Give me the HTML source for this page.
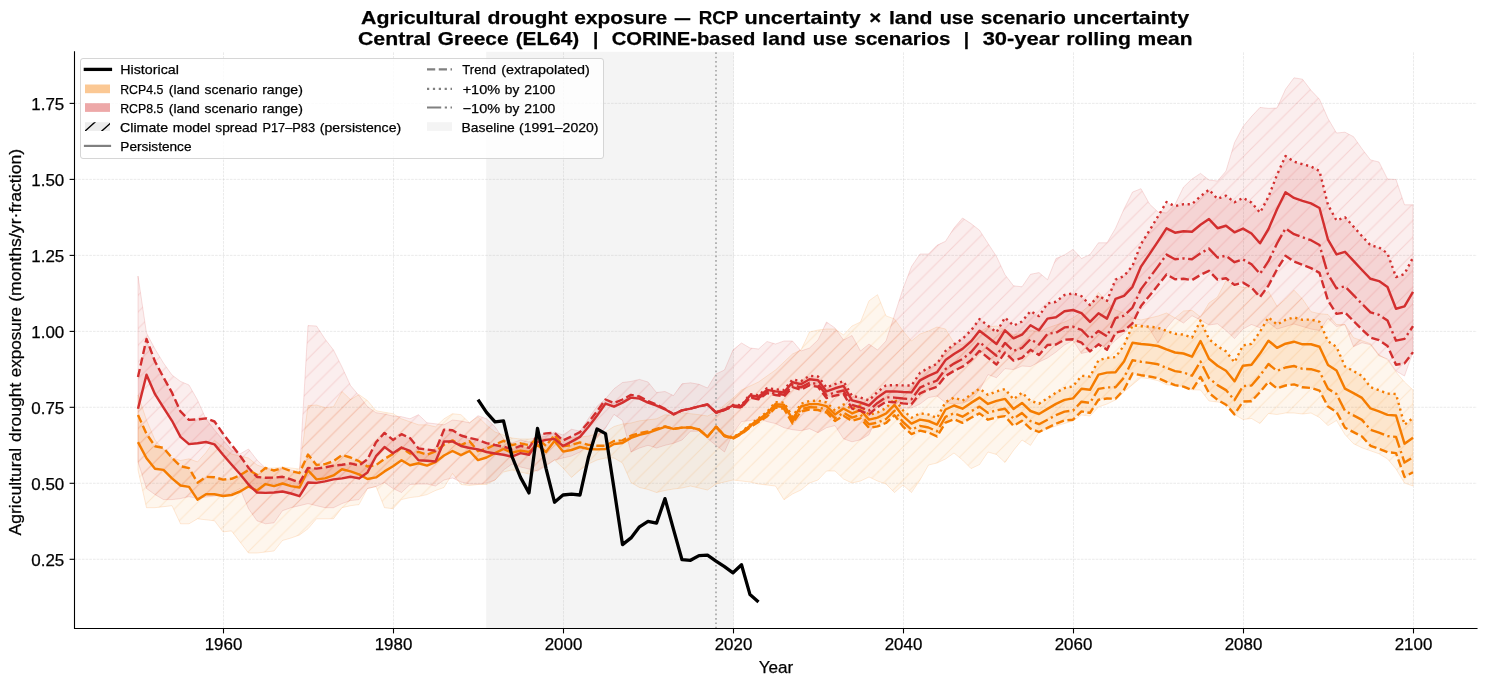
<!DOCTYPE html><html><head><meta charset="utf-8"><title>chart</title><style>html,body{margin:0;padding:0;background:#fff}svg{display:block}text{font-family:"Liberation Sans",sans-serif;fill:#000;stroke:#000;stroke-width:0.25px;stroke-linejoin:round}</style></head><body>
<svg width="1487" height="686" viewBox="0 0 1487 686">
<rect width="1487" height="686" fill="#fff"/>
<defs>
<pattern id="hr" patternUnits="userSpaceOnUse" width="16.6667" height="16.6667" patternTransform="translate(0.00 0)"><path d="M-1.000 17.667 L17.667 -1.000 M-17.667 17.667 L1.000 -1.000 M-1.000 34.333 L34.333 -1.000" stroke="#D32F2F" stroke-opacity="0.15" stroke-width="1" fill="none"/></pattern>
<pattern id="ho" patternUnits="userSpaceOnUse" width="16.6667" height="16.6667" patternTransform="translate(0.00 0)"><path d="M-1.000 17.667 L17.667 -1.000 M-17.667 17.667 L1.000 -1.000 M-1.000 34.333 L34.333 -1.000" stroke="#F57C00" stroke-opacity="0.13" stroke-width="1" fill="none"/></pattern>
<clipPath id="ax"><rect x="74.5" y="51.8" width="1402.5" height="576.7"/></clipPath>
</defs>
<rect x="486.2" y="51.8" width="247.4" height="576.7" fill="#808080" fill-opacity="0.085"/>
<g stroke="#b0b0b0" stroke-opacity="0.36" stroke-width="0.7" stroke-dasharray="2.6 1.1" fill="none">
<path d="M223.5 628.5 V51.8"/>
<path d="M393.5 628.5 V51.8"/>
<path d="M563.5 628.5 V51.8"/>
<path d="M733.5 628.5 V51.8"/>
<path d="M903.5 628.5 V51.8"/>
<path d="M1073.5 628.5 V51.8"/>
<path d="M1243.5 628.5 V51.8"/>
<path d="M1413.5 628.5 V51.8"/>
<path d="M74.5 559.3 H1477.0"/>
<path d="M74.5 483.3 H1477.0"/>
<path d="M74.5 407.3 H1477.0"/>
<path d="M74.5 331.4 H1477.0"/>
<path d="M74.5 255.4 H1477.0"/>
<path d="M74.5 179.4 H1477.0"/>
<path d="M74.5 103.4 H1477.0"/>
</g>
<g clip-path="url(#ax)">
<path d="M138.0 395.0 L146.5 420.0 L155.0 440.0 L163.5 450.0 L172.0 458.0 L180.5 460.5 L189.0 458.8 L197.5 461.9 L206.0 452.5 L214.5 440.3 L223.0 447.0 L231.5 454.0 L240.0 456.0 L248.5 458.0 L257.0 465.0 L265.5 468.0 L274.0 468.0 L282.5 467.0 L291.0 468.0 L299.5 469.0 L308.0 405.6 L316.5 405.0 L325.0 407.7 L333.5 406.7 L342.0 391.5 L350.5 399.6 L359.0 394.6 L367.5 400.6 L376.0 410.7 L384.5 412.3 L393.0 413.7 L401.5 418.8 L410.0 421.8 L418.5 424.8 L427.0 424.8 L435.5 426.8 L444.0 418.8 L452.5 413.7 L461.0 414.7 L469.5 422.8 L478.0 416.7 L486.5 425.0 L495.0 432.0 L503.5 435.0 L512.0 438.0 L520.5 439.0 L529.0 439.0 L537.5 438.0 L546.0 439.0 L554.5 438.0 L563.0 439.0 L571.5 438.0 L580.0 437.0 L588.5 436.0 L597.0 434.0 L605.5 432.0 L614.0 426.5 L622.5 424.0 L631.0 423.0 L639.5 420.8 L648.0 419.8 L656.5 418.8 L665.0 414.7 L673.5 415.7 L682.0 412.7 L690.5 413.7 L699.0 414.7 L707.5 416.0 L716.0 412.0 L724.5 405.0 L733.0 398.0 L741.5 390.0 L750.0 386.0 L758.5 382.0 L767.0 376.0 L775.5 370.0 L784.0 362.0 L792.5 354.0 L801.0 350.0 L809.5 332.0 L818.0 330.0 L826.5 329.0 L835.0 329.0 L843.5 335.0 L852.0 326.0 L860.5 322.0 L869.0 300.8 L877.5 294.7 L886.0 315.9 L894.5 318.9 L903.0 331.0 L911.5 341.0 L920.0 334.0 L928.5 331.0 L937.0 327.0 L945.5 329.0 L954.0 343.0 L962.5 345.0 L971.0 340.0 L979.5 332.0 L988.0 327.0 L996.5 326.0 L1005.0 330.0 L1013.5 335.0 L1022.0 333.0 L1030.5 330.0 L1039.0 332.0 L1047.5 328.0 L1056.0 325.0 L1064.5 322.0 L1073.0 318.0 L1081.5 312.0 L1090.0 305.0 L1098.5 292.4 L1107.0 302.0 L1115.5 310.0 L1124.0 313.0 L1132.5 318.0 L1141.0 320.0 L1149.5 318.0 L1158.0 316.0 L1166.5 313.0 L1175.0 318.0 L1183.5 311.0 L1192.0 310.3 L1200.5 317.0 L1209.0 303.0 L1217.5 297.0 L1226.0 280.8 L1234.5 284.8 L1243.0 287.5 L1251.5 287.5 L1260.0 295.6 L1268.5 291.5 L1277.0 306.3 L1285.5 299.0 L1294.0 290.2 L1302.5 299.0 L1311.0 311.7 L1319.5 313.7 L1328.0 314.5 L1336.5 324.6 L1345.0 324.6 L1353.5 337.7 L1362.0 340.7 L1370.5 343.7 L1379.0 354.8 L1387.5 359.9 L1396.0 372.0 L1404.5 382.0 L1413.0 390.0 L1413.0 486.0 L1404.5 483.0 L1396.0 469.0 L1387.5 458.9 L1379.0 453.8 L1370.5 450.8 L1362.0 447.8 L1353.5 443.7 L1345.0 434.6 L1336.5 420.5 L1328.0 425.6 L1319.5 417.5 L1311.0 413.0 L1302.5 414.0 L1294.0 413.0 L1285.5 413.0 L1277.0 414.5 L1268.5 413.5 L1260.0 423.5 L1251.5 418.5 L1243.0 419.5 L1234.5 414.5 L1226.0 403.0 L1217.5 402.0 L1209.0 401.0 L1200.5 390.0 L1192.0 389.8 L1183.5 386.7 L1175.0 385.7 L1166.5 384.7 L1158.0 380.7 L1149.5 378.7 L1141.0 377.7 L1132.5 384.7 L1124.0 391.8 L1115.5 400.0 L1107.0 404.0 L1098.5 407.0 L1090.0 416.0 L1081.5 415.0 L1073.0 421.0 L1064.5 423.5 L1056.0 426.0 L1047.5 429.0 L1039.0 432.3 L1030.5 445.4 L1022.0 440.0 L1013.5 450.4 L1005.0 462.5 L996.5 454.5 L988.0 452.0 L979.5 464.6 L971.0 468.6 L962.5 460.0 L954.0 453.0 L945.5 459.0 L937.0 463.0 L928.5 465.0 L920.0 480.0 L911.5 492.5 L903.0 485.0 L894.5 492.5 L886.0 484.0 L877.5 481.0 L869.0 477.0 L860.5 481.0 L852.0 483.0 L843.5 479.0 L835.0 471.0 L826.5 471.0 L818.0 480.0 L809.5 483.0 L801.0 490.0 L792.5 494.0 L784.0 499.8 L775.5 486.0 L767.0 485.0 L758.5 484.0 L750.0 482.0 L741.5 481.0 L733.0 480.0 L724.5 482.0 L716.0 484.0 L707.5 490.0 L699.0 488.0 L690.5 486.0 L682.0 488.0 L673.5 489.0 L665.0 490.5 L656.5 492.5 L648.0 489.5 L639.5 487.5 L631.0 482.5 L622.5 463.0 L614.0 458.0 L605.5 458.0 L597.0 460.0 L588.5 464.0 L580.0 470.0 L571.5 477.4 L563.0 468.0 L554.5 460.0 L546.0 465.0 L537.5 470.0 L529.0 474.0 L520.5 472.0 L512.0 470.0 L503.5 472.0 L495.0 480.0 L486.5 484.5 L478.0 484.5 L469.5 485.5 L461.0 484.5 L452.5 473.4 L444.0 487.5 L435.5 490.5 L427.0 494.6 L418.5 496.6 L410.0 497.6 L401.5 499.6 L393.0 508.7 L384.5 507.7 L376.0 486.5 L367.5 488.5 L359.0 504.6 L350.5 505.7 L342.0 507.7 L333.5 518.8 L325.0 518.8 L316.5 518.8 L308.0 528.8 L299.5 535.0 L291.0 538.0 L282.5 540.5 L274.0 551.0 L265.5 552.0 L257.0 553.0 L248.5 553.0 L240.0 542.0 L231.5 530.9 L223.0 531.9 L214.5 520.8 L206.0 519.8 L197.5 518.8 L189.0 523.8 L180.5 523.8 L172.0 505.7 L163.5 506.7 L155.0 507.7 L146.5 507.7 L138.0 470.0Z" fill="#F57C00" fill-opacity="0.07" stroke="#F57C00" stroke-opacity="0.15" stroke-width="1"/>
<path d="M138.0 395.0 L146.5 420.0 L155.0 440.0 L163.5 450.0 L172.0 458.0 L180.5 460.5 L189.0 458.8 L197.5 461.9 L206.0 452.5 L214.5 440.3 L223.0 447.0 L231.5 454.0 L240.0 456.0 L248.5 458.0 L257.0 465.0 L265.5 468.0 L274.0 468.0 L282.5 467.0 L291.0 468.0 L299.5 469.0 L308.0 405.6 L316.5 405.0 L325.0 407.7 L333.5 406.7 L342.0 391.5 L350.5 399.6 L359.0 394.6 L367.5 400.6 L376.0 410.7 L384.5 412.3 L393.0 413.7 L401.5 418.8 L410.0 421.8 L418.5 424.8 L427.0 424.8 L435.5 426.8 L444.0 418.8 L452.5 413.7 L461.0 414.7 L469.5 422.8 L478.0 416.7 L486.5 425.0 L495.0 432.0 L503.5 435.0 L512.0 438.0 L520.5 439.0 L529.0 439.0 L537.5 438.0 L546.0 439.0 L554.5 438.0 L563.0 439.0 L571.5 438.0 L580.0 437.0 L588.5 436.0 L597.0 434.0 L605.5 432.0 L614.0 426.5 L622.5 424.0 L631.0 423.0 L639.5 420.8 L648.0 419.8 L656.5 418.8 L665.0 414.7 L673.5 415.7 L682.0 412.7 L690.5 413.7 L699.0 414.7 L707.5 416.0 L716.0 412.0 L724.5 405.0 L733.0 398.0 L741.5 390.0 L750.0 386.0 L758.5 382.0 L767.0 376.0 L775.5 370.0 L784.0 362.0 L792.5 354.0 L801.0 350.0 L809.5 332.0 L818.0 330.0 L826.5 329.0 L835.0 329.0 L843.5 335.0 L852.0 326.0 L860.5 322.0 L869.0 300.8 L877.5 294.7 L886.0 315.9 L894.5 318.9 L903.0 331.0 L911.5 341.0 L920.0 334.0 L928.5 331.0 L937.0 327.0 L945.5 329.0 L954.0 343.0 L962.5 345.0 L971.0 340.0 L979.5 332.0 L988.0 327.0 L996.5 326.0 L1005.0 330.0 L1013.5 335.0 L1022.0 333.0 L1030.5 330.0 L1039.0 332.0 L1047.5 328.0 L1056.0 325.0 L1064.5 322.0 L1073.0 318.0 L1081.5 312.0 L1090.0 305.0 L1098.5 292.4 L1107.0 302.0 L1115.5 310.0 L1124.0 313.0 L1132.5 318.0 L1141.0 320.0 L1149.5 318.0 L1158.0 316.0 L1166.5 313.0 L1175.0 318.0 L1183.5 311.0 L1192.0 310.3 L1200.5 317.0 L1209.0 303.0 L1217.5 297.0 L1226.0 280.8 L1234.5 284.8 L1243.0 287.5 L1251.5 287.5 L1260.0 295.6 L1268.5 291.5 L1277.0 306.3 L1285.5 299.0 L1294.0 290.2 L1302.5 299.0 L1311.0 311.7 L1319.5 313.7 L1328.0 314.5 L1336.5 324.6 L1345.0 324.6 L1353.5 337.7 L1362.0 340.7 L1370.5 343.7 L1379.0 354.8 L1387.5 359.9 L1396.0 372.0 L1404.5 382.0 L1413.0 390.0 L1413.0 486.0 L1404.5 483.0 L1396.0 469.0 L1387.5 458.9 L1379.0 453.8 L1370.5 450.8 L1362.0 447.8 L1353.5 443.7 L1345.0 434.6 L1336.5 420.5 L1328.0 425.6 L1319.5 417.5 L1311.0 413.0 L1302.5 414.0 L1294.0 413.0 L1285.5 413.0 L1277.0 414.5 L1268.5 413.5 L1260.0 423.5 L1251.5 418.5 L1243.0 419.5 L1234.5 414.5 L1226.0 403.0 L1217.5 402.0 L1209.0 401.0 L1200.5 390.0 L1192.0 389.8 L1183.5 386.7 L1175.0 385.7 L1166.5 384.7 L1158.0 380.7 L1149.5 378.7 L1141.0 377.7 L1132.5 384.7 L1124.0 391.8 L1115.5 400.0 L1107.0 404.0 L1098.5 407.0 L1090.0 416.0 L1081.5 415.0 L1073.0 421.0 L1064.5 423.5 L1056.0 426.0 L1047.5 429.0 L1039.0 432.3 L1030.5 445.4 L1022.0 440.0 L1013.5 450.4 L1005.0 462.5 L996.5 454.5 L988.0 452.0 L979.5 464.6 L971.0 468.6 L962.5 460.0 L954.0 453.0 L945.5 459.0 L937.0 463.0 L928.5 465.0 L920.0 480.0 L911.5 492.5 L903.0 485.0 L894.5 492.5 L886.0 484.0 L877.5 481.0 L869.0 477.0 L860.5 481.0 L852.0 483.0 L843.5 479.0 L835.0 471.0 L826.5 471.0 L818.0 480.0 L809.5 483.0 L801.0 490.0 L792.5 494.0 L784.0 499.8 L775.5 486.0 L767.0 485.0 L758.5 484.0 L750.0 482.0 L741.5 481.0 L733.0 480.0 L724.5 482.0 L716.0 484.0 L707.5 490.0 L699.0 488.0 L690.5 486.0 L682.0 488.0 L673.5 489.0 L665.0 490.5 L656.5 492.5 L648.0 489.5 L639.5 487.5 L631.0 482.5 L622.5 463.0 L614.0 458.0 L605.5 458.0 L597.0 460.0 L588.5 464.0 L580.0 470.0 L571.5 477.4 L563.0 468.0 L554.5 460.0 L546.0 465.0 L537.5 470.0 L529.0 474.0 L520.5 472.0 L512.0 470.0 L503.5 472.0 L495.0 480.0 L486.5 484.5 L478.0 484.5 L469.5 485.5 L461.0 484.5 L452.5 473.4 L444.0 487.5 L435.5 490.5 L427.0 494.6 L418.5 496.6 L410.0 497.6 L401.5 499.6 L393.0 508.7 L384.5 507.7 L376.0 486.5 L367.5 488.5 L359.0 504.6 L350.5 505.7 L342.0 507.7 L333.5 518.8 L325.0 518.8 L316.5 518.8 L308.0 528.8 L299.5 535.0 L291.0 538.0 L282.5 540.5 L274.0 551.0 L265.5 552.0 L257.0 553.0 L248.5 553.0 L240.0 542.0 L231.5 530.9 L223.0 531.9 L214.5 520.8 L206.0 519.8 L197.5 518.8 L189.0 523.8 L180.5 523.8 L172.0 505.7 L163.5 506.7 L155.0 507.7 L146.5 507.7 L138.0 470.0Z" fill="url(#ho)"/>
<path d="M138.0 276.0 L146.5 333.0 L155.0 349.0 L163.5 363.0 L172.0 375.0 L180.5 381.4 L189.0 385.0 L197.5 400.0 L206.0 419.0 L214.5 430.0 L223.0 440.0 L231.5 450.0 L240.0 454.0 L248.5 449.0 L257.0 460.0 L265.5 468.0 L274.0 470.0 L282.5 468.0 L291.0 470.0 L299.5 472.0 L308.0 325.6 L316.5 326.0 L325.0 339.0 L333.5 350.0 L342.0 367.0 L350.5 385.5 L359.0 395.6 L367.5 406.7 L376.0 412.7 L384.5 414.0 L393.0 416.0 L401.5 416.7 L410.0 418.8 L418.5 414.7 L427.0 422.8 L435.5 423.8 L444.0 424.8 L452.5 420.0 L461.0 421.0 L469.5 422.8 L478.0 415.7 L486.5 418.8 L495.0 426.8 L503.5 439.0 L512.0 443.0 L520.5 440.0 L529.0 442.0 L537.5 438.0 L546.0 436.0 L554.5 432.0 L563.0 435.0 L571.5 429.2 L580.0 431.2 L588.5 418.4 L597.0 406.3 L605.5 398.9 L614.0 388.8 L622.5 382.5 L631.0 381.4 L639.5 379.4 L648.0 382.0 L656.5 392.5 L665.0 391.5 L673.5 395.6 L682.0 383.8 L690.5 382.8 L699.0 384.3 L707.5 388.0 L716.0 374.0 L724.5 370.0 L733.0 350.0 L741.5 343.0 L750.0 348.0 L758.5 349.0 L767.0 341.5 L775.5 344.0 L784.0 341.0 L792.5 341.0 L801.0 351.0 L809.5 348.0 L818.0 340.0 L826.5 322.0 L835.0 328.0 L843.5 340.0 L852.0 335.5 L860.5 351.0 L869.0 344.0 L877.5 350.0 L886.0 341.0 L894.5 315.0 L903.0 288.7 L911.5 266.5 L920.0 254.0 L928.5 254.0 L937.0 245.3 L945.5 241.3 L954.0 228.0 L962.5 218.0 L971.0 223.6 L979.5 230.2 L988.0 243.4 L996.5 256.5 L1005.0 274.7 L1013.5 285.8 L1022.0 286.8 L1030.5 274.3 L1039.0 272.6 L1047.5 279.7 L1056.0 258.5 L1064.5 254.9 L1073.0 249.4 L1081.5 258.5 L1090.0 254.5 L1098.5 242.8 L1107.0 242.8 L1115.5 228.3 L1124.0 209.0 L1132.5 192.1 L1141.0 188.7 L1149.5 204.0 L1158.0 212.0 L1166.5 213.0 L1175.0 204.5 L1183.5 187.1 L1192.0 179.0 L1200.5 173.4 L1209.0 180.0 L1217.5 181.0 L1226.0 171.0 L1234.5 142.7 L1243.0 126.6 L1251.5 116.5 L1260.0 107.4 L1268.5 108.4 L1277.0 108.0 L1285.5 89.3 L1294.0 77.8 L1302.5 79.2 L1311.0 90.3 L1319.5 99.3 L1328.0 118.5 L1336.5 133.0 L1345.0 132.2 L1353.5 136.7 L1362.0 148.8 L1370.5 159.9 L1379.0 162.0 L1387.5 179.0 L1396.0 179.5 L1404.5 204.8 L1413.0 204.8 L1413.0 351.8 L1404.5 376.0 L1396.0 371.0 L1387.5 358.9 L1379.0 355.8 L1370.5 344.7 L1362.0 342.7 L1353.5 346.7 L1345.0 324.6 L1336.5 326.6 L1328.0 318.5 L1319.5 330.5 L1311.0 329.0 L1302.5 326.5 L1294.0 324.0 L1285.5 326.5 L1277.0 329.0 L1268.5 322.5 L1260.0 327.8 L1251.5 324.5 L1243.0 329.0 L1234.5 338.6 L1226.0 330.5 L1217.5 323.8 L1209.0 325.0 L1200.5 320.0 L1192.0 315.7 L1183.5 323.0 L1175.0 318.0 L1166.5 328.0 L1158.0 343.0 L1149.5 329.0 L1141.0 324.2 L1132.5 325.2 L1124.0 333.3 L1115.5 340.3 L1107.0 348.4 L1098.5 343.4 L1090.0 351.4 L1081.5 353.5 L1073.0 340.3 L1064.5 345.0 L1056.0 352.0 L1047.5 358.0 L1039.0 362.0 L1030.5 366.6 L1022.0 366.0 L1013.5 369.6 L1005.0 368.6 L996.5 377.7 L988.0 374.6 L979.5 390.0 L971.0 400.0 L962.5 403.0 L954.0 404.0 L945.5 402.7 L937.0 396.0 L928.5 397.6 L920.0 404.0 L911.5 408.0 L903.0 408.0 L894.5 410.0 L886.0 414.6 L877.5 416.6 L869.0 434.7 L860.5 439.8 L852.0 441.8 L843.5 438.8 L835.0 425.6 L826.5 427.7 L818.0 432.7 L809.5 428.7 L801.0 430.7 L792.5 429.7 L784.0 427.7 L775.5 423.6 L767.0 421.6 L758.5 418.6 L750.0 420.6 L741.5 421.6 L733.0 433.0 L724.5 452.0 L716.0 445.3 L707.5 438.6 L699.0 431.2 L690.5 431.2 L682.0 440.0 L673.5 443.3 L665.0 445.3 L656.5 448.0 L648.0 445.3 L639.5 448.0 L631.0 452.0 L622.5 420.4 L614.0 414.4 L605.5 428.0 L597.0 438.0 L588.5 445.0 L580.0 452.0 L571.5 456.0 L563.0 458.0 L554.5 460.0 L546.0 466.0 L537.5 471.0 L529.0 469.0 L520.5 467.0 L512.0 464.0 L503.5 470.0 L495.0 480.0 L486.5 483.0 L478.0 484.0 L469.5 484.0 L461.0 482.0 L452.5 478.0 L444.0 480.0 L435.5 486.0 L427.0 484.0 L418.5 484.0 L410.0 484.5 L401.5 492.5 L393.0 488.5 L384.5 482.5 L376.0 486.5 L367.5 488.5 L359.0 499.6 L350.5 500.6 L342.0 503.6 L333.5 507.7 L325.0 507.7 L316.5 505.7 L308.0 503.6 L299.5 505.7 L291.0 507.7 L282.5 510.7 L274.0 522.8 L265.5 523.8 L257.0 520.8 L248.5 508.7 L240.0 488.5 L231.5 493.0 L223.0 495.0 L214.5 496.0 L206.0 497.0 L197.5 498.6 L189.0 496.6 L180.5 498.6 L172.0 499.6 L163.5 499.6 L155.0 494.6 L146.5 488.5 L138.0 462.0Z" fill="#D32F2F" fill-opacity="0.082" stroke="#D32F2F" stroke-opacity="0.15" stroke-width="1"/>
<path d="M138.0 276.0 L146.5 333.0 L155.0 349.0 L163.5 363.0 L172.0 375.0 L180.5 381.4 L189.0 385.0 L197.5 400.0 L206.0 419.0 L214.5 430.0 L223.0 440.0 L231.5 450.0 L240.0 454.0 L248.5 449.0 L257.0 460.0 L265.5 468.0 L274.0 470.0 L282.5 468.0 L291.0 470.0 L299.5 472.0 L308.0 325.6 L316.5 326.0 L325.0 339.0 L333.5 350.0 L342.0 367.0 L350.5 385.5 L359.0 395.6 L367.5 406.7 L376.0 412.7 L384.5 414.0 L393.0 416.0 L401.5 416.7 L410.0 418.8 L418.5 414.7 L427.0 422.8 L435.5 423.8 L444.0 424.8 L452.5 420.0 L461.0 421.0 L469.5 422.8 L478.0 415.7 L486.5 418.8 L495.0 426.8 L503.5 439.0 L512.0 443.0 L520.5 440.0 L529.0 442.0 L537.5 438.0 L546.0 436.0 L554.5 432.0 L563.0 435.0 L571.5 429.2 L580.0 431.2 L588.5 418.4 L597.0 406.3 L605.5 398.9 L614.0 388.8 L622.5 382.5 L631.0 381.4 L639.5 379.4 L648.0 382.0 L656.5 392.5 L665.0 391.5 L673.5 395.6 L682.0 383.8 L690.5 382.8 L699.0 384.3 L707.5 388.0 L716.0 374.0 L724.5 370.0 L733.0 350.0 L741.5 343.0 L750.0 348.0 L758.5 349.0 L767.0 341.5 L775.5 344.0 L784.0 341.0 L792.5 341.0 L801.0 351.0 L809.5 348.0 L818.0 340.0 L826.5 322.0 L835.0 328.0 L843.5 340.0 L852.0 335.5 L860.5 351.0 L869.0 344.0 L877.5 350.0 L886.0 341.0 L894.5 315.0 L903.0 288.7 L911.5 266.5 L920.0 254.0 L928.5 254.0 L937.0 245.3 L945.5 241.3 L954.0 228.0 L962.5 218.0 L971.0 223.6 L979.5 230.2 L988.0 243.4 L996.5 256.5 L1005.0 274.7 L1013.5 285.8 L1022.0 286.8 L1030.5 274.3 L1039.0 272.6 L1047.5 279.7 L1056.0 258.5 L1064.5 254.9 L1073.0 249.4 L1081.5 258.5 L1090.0 254.5 L1098.5 242.8 L1107.0 242.8 L1115.5 228.3 L1124.0 209.0 L1132.5 192.1 L1141.0 188.7 L1149.5 204.0 L1158.0 212.0 L1166.5 213.0 L1175.0 204.5 L1183.5 187.1 L1192.0 179.0 L1200.5 173.4 L1209.0 180.0 L1217.5 181.0 L1226.0 171.0 L1234.5 142.7 L1243.0 126.6 L1251.5 116.5 L1260.0 107.4 L1268.5 108.4 L1277.0 108.0 L1285.5 89.3 L1294.0 77.8 L1302.5 79.2 L1311.0 90.3 L1319.5 99.3 L1328.0 118.5 L1336.5 133.0 L1345.0 132.2 L1353.5 136.7 L1362.0 148.8 L1370.5 159.9 L1379.0 162.0 L1387.5 179.0 L1396.0 179.5 L1404.5 204.8 L1413.0 204.8 L1413.0 351.8 L1404.5 376.0 L1396.0 371.0 L1387.5 358.9 L1379.0 355.8 L1370.5 344.7 L1362.0 342.7 L1353.5 346.7 L1345.0 324.6 L1336.5 326.6 L1328.0 318.5 L1319.5 330.5 L1311.0 329.0 L1302.5 326.5 L1294.0 324.0 L1285.5 326.5 L1277.0 329.0 L1268.5 322.5 L1260.0 327.8 L1251.5 324.5 L1243.0 329.0 L1234.5 338.6 L1226.0 330.5 L1217.5 323.8 L1209.0 325.0 L1200.5 320.0 L1192.0 315.7 L1183.5 323.0 L1175.0 318.0 L1166.5 328.0 L1158.0 343.0 L1149.5 329.0 L1141.0 324.2 L1132.5 325.2 L1124.0 333.3 L1115.5 340.3 L1107.0 348.4 L1098.5 343.4 L1090.0 351.4 L1081.5 353.5 L1073.0 340.3 L1064.5 345.0 L1056.0 352.0 L1047.5 358.0 L1039.0 362.0 L1030.5 366.6 L1022.0 366.0 L1013.5 369.6 L1005.0 368.6 L996.5 377.7 L988.0 374.6 L979.5 390.0 L971.0 400.0 L962.5 403.0 L954.0 404.0 L945.5 402.7 L937.0 396.0 L928.5 397.6 L920.0 404.0 L911.5 408.0 L903.0 408.0 L894.5 410.0 L886.0 414.6 L877.5 416.6 L869.0 434.7 L860.5 439.8 L852.0 441.8 L843.5 438.8 L835.0 425.6 L826.5 427.7 L818.0 432.7 L809.5 428.7 L801.0 430.7 L792.5 429.7 L784.0 427.7 L775.5 423.6 L767.0 421.6 L758.5 418.6 L750.0 420.6 L741.5 421.6 L733.0 433.0 L724.5 452.0 L716.0 445.3 L707.5 438.6 L699.0 431.2 L690.5 431.2 L682.0 440.0 L673.5 443.3 L665.0 445.3 L656.5 448.0 L648.0 445.3 L639.5 448.0 L631.0 452.0 L622.5 420.4 L614.0 414.4 L605.5 428.0 L597.0 438.0 L588.5 445.0 L580.0 452.0 L571.5 456.0 L563.0 458.0 L554.5 460.0 L546.0 466.0 L537.5 471.0 L529.0 469.0 L520.5 467.0 L512.0 464.0 L503.5 470.0 L495.0 480.0 L486.5 483.0 L478.0 484.0 L469.5 484.0 L461.0 482.0 L452.5 478.0 L444.0 480.0 L435.5 486.0 L427.0 484.0 L418.5 484.0 L410.0 484.5 L401.5 492.5 L393.0 488.5 L384.5 482.5 L376.0 486.5 L367.5 488.5 L359.0 499.6 L350.5 500.6 L342.0 503.6 L333.5 507.7 L325.0 507.7 L316.5 505.7 L308.0 503.6 L299.5 505.7 L291.0 507.7 L282.5 510.7 L274.0 522.8 L265.5 523.8 L257.0 520.8 L248.5 508.7 L240.0 488.5 L231.5 493.0 L223.0 495.0 L214.5 496.0 L206.0 497.0 L197.5 498.6 L189.0 496.6 L180.5 498.6 L172.0 499.6 L163.5 499.6 L155.0 494.6 L146.5 488.5 L138.0 462.0Z" fill="url(#hr)"/>
<path d="M138.0 415.1 L146.5 433.9 L155.0 446.2 L163.5 447.9 L172.0 457.9 L180.5 466.2 L189.0 468.1 L197.5 482.7 L206.0 476.9 L214.5 477.2 L223.0 479.6 L231.5 478.8 L240.0 475.3 L248.5 470.0 L257.0 474.8 L265.5 468.0 L274.0 470.5 L282.5 468.0 L291.0 471.2 L299.5 473.1 L308.0 454.6 L316.5 464.9 L325.0 464.1 L333.5 461.2 L342.0 455.0 L350.5 457.5 L359.0 461.2 L367.5 466.5 L376.0 465.1 L384.5 459.0 L393.0 453.9 L401.5 447.8 L410.0 453.6 L418.5 451.8 L427.0 454.6 L435.5 451.4 L444.0 444.7 L452.5 440.4 L461.0 445.1 L469.5 441.2 L478.0 451.2 L486.5 448.8 L495.0 444.6 L503.5 440.8 L512.0 445.0 L520.5 443.3 L529.0 445.1 L537.5 438.2 L546.0 445.9 L554.5 434.9 L563.0 446.3 L571.5 445.1 L580.0 442.4 L588.5 444.9 L597.0 445.7 L605.5 445.7 L614.0 441.0 L622.5 440.4 L631.0 435.7 L639.5 433.1 L648.0 431.5 L656.5 428.9 L665.0 426.4 L673.5 428.9 L682.0 427.6 L690.5 427.4 L699.0 429.5 L707.5 436.7 L716.0 426.7 L724.5 435.5 L733.0 437.3 L741.5 432.0 L750.0 424.6 L758.5 418.3 L767.0 411.9 L775.5 402.1 L784.0 402.6 L792.5 416.8 L801.0 403.7 L809.5 401.0 L818.0 400.7 L826.5 402.4 L835.0 410.6 L843.5 404.4 L852.0 409.0 L860.5 405.4 L869.0 414.9 L877.5 412.5 L886.0 408.1 L894.5 399.0 L903.0 410.3 L911.5 417.7 L920.0 413.3 L928.5 414.5 L937.0 418.0 L945.5 402.1 L954.0 397.6 L962.5 400.7 L971.0 394.4 L979.5 388.6 L988.0 394.9 L996.5 391.4 L1005.0 389.0 L1013.5 399.3 L1022.0 392.7 L1030.5 400.8 L1039.0 403.7 L1047.5 398.2 L1056.0 392.6 L1064.5 388.1 L1073.0 386.3 L1081.5 375.8 L1090.0 376.6 L1098.5 360.3 L1107.0 357.9 L1115.5 357.1 L1124.0 345.5 L1132.5 325.3 L1141.0 326.2 L1149.5 326.7 L1158.0 327.7 L1166.5 330.9 L1175.0 333.8 L1183.5 334.6 L1192.0 337.6 L1200.5 320.6 L1209.0 339.1 L1217.5 346.3 L1226.0 351.4 L1234.5 362.4 L1243.0 345.4 L1251.5 343.9 L1260.0 331.7 L1268.5 317.3 L1277.0 324.6 L1285.5 319.9 L1294.0 317.4 L1302.5 319.8 L1311.0 319.5 L1319.5 321.8 L1328.0 341.2 L1336.5 347.0 L1345.0 366.4 L1353.5 371.1 L1362.0 375.9 L1370.5 387.1 L1379.0 390.2 L1387.5 393.6 L1396.0 394.0 L1404.5 424.8 L1413.0 417.9 L1413.0 472.3 L1404.5 476.9 L1396.0 453.1 L1387.5 452.1 L1379.0 448.8 L1370.5 445.8 L1362.0 436.5 L1353.5 432.1 L1345.0 427.7 L1336.5 411.9 L1328.0 406.6 L1319.5 390.6 L1311.0 387.9 L1302.5 387.3 L1294.0 384.4 L1285.5 385.5 L1277.0 388.4 L1268.5 381.7 L1260.0 392.2 L1251.5 401.2 L1243.0 401.5 L1234.5 414.4 L1226.0 404.7 L1217.5 399.8 L1209.0 393.0 L1200.5 376.9 L1192.0 390.1 L1183.5 386.6 L1175.0 385.1 L1166.5 381.8 L1158.0 378.2 L1149.5 376.5 L1141.0 375.2 L1132.5 373.4 L1124.0 389.7 L1115.5 398.7 L1107.0 398.5 L1098.5 399.7 L1090.0 412.9 L1081.5 411.4 L1073.0 419.7 L1064.5 420.5 L1056.0 423.7 L1047.5 427.8 L1039.0 432.0 L1030.5 428.7 L1022.0 420.8 L1013.5 425.9 L1005.0 416.1 L996.5 417.4 L988.0 419.7 L979.5 413.4 L971.0 417.8 L962.5 422.8 L954.0 419.2 L945.5 422.6 L937.0 436.4 L928.5 432.5 L920.0 430.7 L911.5 434.1 L903.0 426.5 L894.5 415.2 L886.0 423.0 L877.5 426.4 L869.0 427.9 L860.5 418.3 L852.0 420.9 L843.5 415.8 L835.0 421.0 L826.5 412.5 L818.0 410.0 L809.5 409.5 L801.0 411.4 L792.5 423.4 L784.0 408.8 L775.5 407.5 L767.0 416.4 L758.5 421.9 L750.0 427.4 L741.5 434.0 L733.0 438.6 L724.5 436.2 L716.0 426.7 L707.5 436.7 L699.0 429.5 L690.5 427.4 L682.0 427.6 L673.5 428.9 L665.0 426.8 L656.5 429.9 L648.0 432.9 L639.5 434.9 L631.0 437.9 L622.5 443.0 L614.0 444.0 L605.5 449.0 L597.0 449.4 L588.5 449.0 L580.0 447.0 L571.5 450.0 L563.0 451.6 L554.5 441.0 L546.0 452.0 L537.5 445.0 L529.0 452.0 L520.5 450.6 L512.0 452.7 L503.5 449.0 L495.0 453.1 L486.5 457.5 L478.0 460.1 L469.5 451.0 L461.0 455.1 L452.5 451.0 L444.0 455.5 L435.5 462.1 L427.0 465.6 L418.5 463.2 L410.0 465.3 L401.5 460.2 L393.0 466.3 L384.5 471.4 L376.0 477.4 L367.5 479.0 L359.0 474.4 L350.5 471.4 L342.0 469.3 L333.5 475.4 L325.0 478.4 L316.5 479.4 L308.0 470.3 L299.5 487.5 L291.0 486.1 L282.5 483.5 L274.0 486.1 L265.5 484.1 L257.0 490.5 L248.5 486.5 L240.0 491.5 L231.5 495.0 L223.0 496.0 L214.5 494.2 L206.0 494.2 L197.5 499.6 L189.0 486.9 L180.5 485.5 L172.0 478.4 L163.5 469.9 L155.0 468.7 L146.5 458.2 L138.0 442.1Z" fill="#F57C00" fill-opacity="0.135"/>
<path d="M138.0 377.0 L146.5 338.9 L155.0 361.5 L163.5 377.4 L172.0 392.7 L180.5 411.4 L189.0 419.9 L197.5 419.4 L206.0 418.4 L214.5 421.5 L223.0 433.6 L231.5 444.8 L240.0 455.7 L248.5 467.7 L257.0 477.0 L265.5 477.8 L274.0 477.6 L282.5 476.8 L291.0 479.4 L299.5 482.6 L308.0 467.9 L316.5 468.6 L325.0 467.4 L333.5 465.6 L342.0 464.8 L350.5 463.4 L359.0 465.5 L367.5 459.3 L376.0 442.3 L384.5 432.9 L393.0 439.9 L401.5 434.2 L410.0 438.1 L418.5 448.5 L427.0 449.5 L435.5 450.7 L444.0 429.7 L452.5 430.2 L461.0 435.5 L469.5 438.0 L478.0 439.9 L486.5 443.1 L495.0 445.0 L503.5 446.7 L512.0 449.2 L520.5 445.8 L529.0 447.9 L537.5 435.1 L546.0 433.4 L554.5 432.8 L563.0 440.5 L571.5 436.4 L580.0 432.1 L588.5 422.2 L597.0 411.4 L605.5 399.5 L614.0 403.1 L622.5 399.5 L631.0 394.9 L639.5 396.5 L648.0 401.1 L656.5 404.6 L665.0 408.8 L673.5 414.3 L682.0 410.4 L690.5 408.6 L699.0 406.4 L707.5 404.5 L716.0 412.5 L724.5 409.2 L733.0 404.9 L741.5 405.2 L750.0 394.2 L758.5 395.3 L767.0 388.1 L775.5 389.3 L784.0 390.0 L792.5 379.5 L801.0 381.2 L809.5 375.8 L818.0 376.5 L826.5 387.5 L835.0 384.1 L843.5 381.3 L852.0 395.9 L860.5 397.6 L869.0 400.4 L877.5 391.9 L886.0 385.4 L894.5 385.1 L903.0 385.4 L911.5 385.6 L920.0 372.8 L928.5 367.9 L937.0 363.8 L945.5 351.0 L954.0 344.4 L962.5 338.8 L971.0 330.6 L979.5 319.1 L988.0 325.7 L996.5 332.3 L1005.0 317.6 L1013.5 325.7 L1022.0 321.5 L1030.5 311.2 L1039.0 316.1 L1047.5 303.5 L1056.0 301.8 L1064.5 295.0 L1073.0 293.4 L1081.5 296.2 L1090.0 305.1 L1098.5 295.6 L1107.0 300.8 L1115.5 279.6 L1124.0 276.0 L1132.5 265.9 L1141.0 244.1 L1149.5 230.4 L1158.0 216.4 L1166.5 202.0 L1175.0 206.2 L1183.5 204.2 L1192.0 204.2 L1200.5 196.3 L1209.0 189.7 L1217.5 198.9 L1226.0 195.7 L1234.5 202.3 L1243.0 197.9 L1251.5 202.6 L1260.0 212.7 L1268.5 196.8 L1277.0 174.9 L1285.5 156.1 L1294.0 161.7 L1302.5 164.2 L1311.0 166.5 L1319.5 171.0 L1328.0 205.0 L1336.5 220.5 L1345.0 217.2 L1353.5 226.6 L1362.0 236.2 L1370.5 245.3 L1379.0 247.4 L1387.5 253.4 L1396.0 277.0 L1404.5 273.9 L1413.0 257.5 L1413.0 352.1 L1404.5 363.4 L1396.0 364.7 L1387.5 345.9 L1379.0 340.2 L1370.5 337.5 L1362.0 329.4 L1353.5 321.0 L1345.0 312.5 L1336.5 313.9 L1328.0 300.6 L1319.5 272.9 L1311.0 268.1 L1302.5 264.9 L1294.0 261.6 L1285.5 255.8 L1277.0 269.4 L1268.5 285.5 L1260.0 297.0 L1251.5 287.6 L1243.0 282.6 L1234.5 284.9 L1226.0 278.3 L1217.5 279.6 L1209.0 270.8 L1200.5 274.9 L1192.0 280.1 L1183.5 278.8 L1175.0 279.2 L1166.5 274.4 L1158.0 285.2 L1149.5 295.7 L1141.0 306.0 L1132.5 323.3 L1124.0 330.7 L1115.5 332.7 L1107.0 349.8 L1098.5 344.3 L1090.0 351.4 L1081.5 342.7 L1073.0 339.3 L1064.5 339.7 L1056.0 344.5 L1047.5 345.0 L1039.0 355.1 L1030.5 349.8 L1022.0 357.9 L1013.5 360.6 L1005.0 352.5 L996.5 364.6 L988.0 357.7 L979.5 350.9 L971.0 360.3 L962.5 366.7 L954.0 370.9 L945.5 376.0 L937.0 386.8 L928.5 389.7 L920.0 393.4 L911.5 404.3 L903.0 403.4 L894.5 402.3 L886.0 401.8 L877.5 407.1 L869.0 414.3 L860.5 410.9 L852.0 408.5 L843.5 393.9 L835.0 395.7 L826.5 398.1 L818.0 386.8 L809.5 385.3 L801.0 389.7 L792.5 387.2 L784.0 396.5 L775.5 395.0 L767.0 393.1 L758.5 399.4 L750.0 397.4 L741.5 407.6 L733.0 406.5 L724.5 410.0 L716.0 412.5 L707.5 404.5 L699.0 406.4 L690.5 408.6 L682.0 410.4 L673.5 414.3 L665.0 409.3 L656.5 405.7 L648.0 402.6 L639.5 398.6 L631.0 397.6 L622.5 402.6 L614.0 406.7 L605.5 403.6 L597.0 415.7 L588.5 426.8 L580.0 436.9 L571.5 441.6 L563.0 446.0 L554.5 438.9 L546.0 439.9 L537.5 442.0 L529.0 454.7 L520.5 453.1 L512.0 456.7 L503.5 454.7 L495.0 453.5 L486.5 452.0 L478.0 449.4 L469.5 448.0 L461.0 446.0 L452.5 441.4 L444.0 441.4 L435.5 461.5 L427.0 460.7 L418.5 460.2 L410.0 450.8 L401.5 447.6 L393.0 453.2 L384.5 447.1 L376.0 456.2 L367.5 472.4 L359.0 478.4 L350.5 476.8 L342.0 478.4 L333.5 479.4 L325.0 481.4 L316.5 482.9 L308.0 482.5 L299.5 496.2 L291.0 493.5 L282.5 491.5 L274.0 492.5 L265.5 492.9 L257.0 492.5 L248.5 484.5 L240.0 474.0 L231.5 464.5 L223.0 454.8 L214.5 444.4 L206.0 442.0 L197.5 443.2 L189.0 444.1 L180.5 436.9 L172.0 420.8 L163.5 407.7 L155.0 394.2 L146.5 374.8 L138.0 408.7Z" fill="#D32F2F" fill-opacity="0.135"/>
<path d="M716.0 628.5 V51.8" stroke="#999" stroke-opacity="0.85" stroke-width="1.67" stroke-dasharray="1.67 2.75" fill="none"/>
<g stroke="#F57C00" fill="none" stroke-linejoin="round">
<path d="M138.0 442.1 L146.5 458.2 L155.0 468.7 L163.5 469.9 L172.0 478.4 L180.5 485.5 L189.0 486.9 L197.5 499.6 L206.0 494.2 L214.5 494.2 L223.0 496.0 L231.5 495.0 L240.0 491.5 L248.5 486.5 L257.0 490.5 L265.5 484.1 L274.0 486.1 L282.5 483.5 L291.0 486.1 L299.5 487.5 L308.0 470.3 L316.5 479.4 L325.0 478.4 L333.5 475.4 L342.0 469.3 L350.5 471.4 L359.0 474.4 L367.5 479.0 L376.0 477.4 L384.5 471.4 L393.0 466.3 L401.5 460.2 L410.0 465.3 L418.5 463.2 L427.0 465.6 L435.5 462.1 L444.0 455.5 L452.5 451.0 L461.0 455.1 L469.5 451.0 L478.0 460.1 L486.5 457.5 L495.0 453.1 L503.5 449.0 L512.0 452.7 L520.5 450.6 L529.0 452.0 L537.5 445.0 L546.0 452.0 L554.5 441.0 L563.0 451.6 L571.5 450.0 L580.0 447.0 L588.5 449.0 L597.0 449.4 L605.5 449.0 L614.0 444.0 L622.5 443.0 L631.0 437.9 L639.5 434.9 L648.0 432.9 L656.5 429.9 L665.0 426.8 L673.5 428.9 L682.0 427.6 L690.5 427.4 L699.0 429.5 L707.5 436.7 L716.0 426.7 L724.5 435.7 L733.0 437.8 L741.5 432.7 L750.0 425.7 L758.5 419.6 L767.0 413.5 L775.5 404.1 L784.0 404.9 L792.5 419.2 L801.0 406.5 L809.5 404.1 L818.0 404.1 L826.5 406.1 L835.0 414.4 L843.5 408.5 L852.0 413.3 L860.5 410.1 L869.0 419.6 L877.5 417.6 L886.0 413.5 L894.5 404.9 L903.0 416.2 L911.5 423.6 L920.0 419.6 L928.5 421.0 L937.0 424.6 L945.5 409.5 L954.0 405.5 L962.5 408.7 L971.0 402.9 L979.5 397.6 L988.0 403.9 L996.5 400.9 L1005.0 398.9 L1013.5 408.9 L1022.0 402.9 L1030.5 411.0 L1039.0 414.0 L1047.5 408.9 L1056.0 403.9 L1064.5 399.9 L1073.0 398.4 L1081.5 388.8 L1090.0 389.8 L1098.5 374.6 L1107.0 372.6 L1115.5 372.2 L1124.0 361.5 L1132.5 342.8 L1141.0 344.0 L1149.5 344.8 L1158.0 346.0 L1166.5 349.4 L1175.0 352.5 L1183.5 353.5 L1192.0 356.7 L1200.5 341.0 L1209.0 358.7 L1217.5 365.7 L1226.0 370.8 L1234.5 381.3 L1243.0 365.7 L1251.5 364.7 L1260.0 353.6 L1268.5 340.7 L1277.0 347.8 L1285.5 343.7 L1294.0 341.7 L1302.5 344.3 L1311.0 344.3 L1319.5 346.7 L1328.0 365.0 L1336.5 370.5 L1345.0 388.7 L1353.5 393.2 L1362.0 397.9 L1370.5 408.4 L1379.0 411.4 L1387.5 414.9 L1396.0 415.5 L1404.5 443.7 L1413.0 437.7" stroke-width="2.45"/>
<path d="M138.0 415.1 L146.5 433.9 L155.0 446.2 L163.5 447.9 L172.0 457.9 L180.5 466.2 L189.0 468.1 L197.5 482.7 L206.0 476.9 L214.5 477.2 L223.0 479.6 L231.5 478.8 L240.0 475.3 L248.5 470.0 L257.0 474.8 L265.5 468.0 L274.0 470.5 L282.5 468.0 L291.0 471.2 L299.5 473.1 L308.0 454.6 L316.5 464.9 L325.0 464.1 L333.5 461.2 L342.0 455.0 L350.5 457.5 L359.0 461.2 L367.5 466.5 L376.0 465.1 L384.5 459.0 L393.0 453.9 L401.5 447.8 L410.0 453.6 L418.5 451.8 L427.0 454.6 L435.5 451.4 L444.0 444.7 L452.5 440.4 L461.0 445.1 L469.5 441.2 L478.0 451.2 L486.5 448.8 L495.0 444.6 L503.5 440.8 L512.0 445.0 L520.5 443.3 L529.0 445.1 L537.5 438.2 L546.0 445.9 L554.5 434.9 L563.0 446.3 L571.5 445.1 L580.0 442.4 L588.5 444.9 L597.0 445.7 L605.5 445.7 L614.0 441.0 L622.5 440.4 L631.0 435.7 L639.5 433.1 L648.0 431.5 L656.5 428.9 L665.0 426.4 L673.5 428.9 L682.0 427.6 L690.5 427.4 L699.0 429.5 L707.5 436.7 L716.0 426.7 L724.5 436.2 L733.0 438.6 L741.5 434.0 L750.0 427.4 L758.5 421.9 L767.0 416.4 L775.5 407.5 L784.0 408.8 L792.5 423.4 L801.0 411.4 L809.5 409.5 L818.0 410.0 L826.5 412.5 L835.0 421.0 L843.5 415.8 L852.0 420.9 L860.5 418.3 L869.0 427.9 L877.5 426.4 L886.0 423.0 L894.5 415.2 L903.0 426.5 L911.5 434.1 L920.0 430.7 L928.5 432.5 L937.0 436.4 L945.5 422.6 L954.0 419.2 L962.5 422.8 L971.0 417.8 L979.5 413.4 L988.0 419.7 L996.5 417.4 L1005.0 416.1 L1013.5 425.9 L1022.0 420.8 L1030.5 428.7 L1039.0 432.0 L1047.5 427.8 L1056.0 423.7 L1064.5 420.5 L1073.0 419.7 L1081.5 411.4 L1090.0 412.9 L1098.5 399.7 L1107.0 398.5 L1115.5 398.7 L1124.0 389.7 L1132.5 373.4 L1141.0 375.2 L1149.5 376.5 L1158.0 378.2 L1166.5 381.8 L1175.0 385.1 L1183.5 386.6 L1192.0 390.1 L1200.5 376.9 L1209.0 393.0 L1217.5 399.8 L1226.0 404.7 L1234.5 414.4 L1243.0 401.5 L1251.5 401.2 L1260.0 392.2 L1268.5 381.7 L1277.0 388.4 L1285.5 385.5 L1294.0 384.4 L1302.5 387.3 L1311.0 387.9 L1319.5 390.6 L1328.0 406.6 L1336.5 411.9 L1345.0 427.7 L1353.5 432.1 L1362.0 436.5 L1370.5 445.8 L1379.0 448.8 L1387.5 452.1 L1396.0 453.1 L1404.5 476.9 L1413.0 472.3" stroke-width="2.40" stroke-dasharray="8.21 3.55"/>
<path d="M716.0 426.7 L724.5 435.5 L733.0 437.3 L741.5 432.0 L750.0 424.6 L758.5 418.3 L767.0 411.9 L775.5 402.1 L784.0 402.6 L792.5 416.8 L801.0 403.7 L809.5 401.0 L818.0 400.7 L826.5 402.4 L835.0 410.6 L843.5 404.4 L852.0 409.0 L860.5 405.4 L869.0 414.9 L877.5 412.5 L886.0 408.1 L894.5 399.0 L903.0 410.3 L911.5 417.7 L920.0 413.3 L928.5 414.5 L937.0 418.0 L945.5 402.1 L954.0 397.6 L962.5 400.7 L971.0 394.4 L979.5 388.6 L988.0 394.9 L996.5 391.4 L1005.0 389.0 L1013.5 399.3 L1022.0 392.7 L1030.5 400.8 L1039.0 403.7 L1047.5 398.2 L1056.0 392.6 L1064.5 388.1 L1073.0 386.3 L1081.5 375.8 L1090.0 376.6 L1098.5 360.3 L1107.0 357.9 L1115.5 357.1 L1124.0 345.5 L1132.5 325.3 L1141.0 326.2 L1149.5 326.7 L1158.0 327.7 L1166.5 330.9 L1175.0 333.8 L1183.5 334.6 L1192.0 337.6 L1200.5 320.6 L1209.0 339.1 L1217.5 346.3 L1226.0 351.4 L1234.5 362.4 L1243.0 345.4 L1251.5 343.9 L1260.0 331.7 L1268.5 317.3 L1277.0 324.6 L1285.5 319.9 L1294.0 317.4 L1302.5 319.8 L1311.0 319.5 L1319.5 321.8 L1328.0 341.2 L1336.5 347.0 L1345.0 366.4 L1353.5 371.1 L1362.0 375.9 L1370.5 387.1 L1379.0 390.2 L1387.5 393.6 L1396.0 394.0 L1404.5 424.8 L1413.0 417.9" stroke-width="2.40" stroke-dasharray="2.22 3.66"/>
<path d="M716.0 426.7 L724.5 436.0 L733.0 438.2 L741.5 433.5 L750.0 426.7 L758.5 420.9 L767.0 415.2 L775.5 406.0 L784.0 407.1 L792.5 421.6 L801.0 409.3 L809.5 407.2 L818.0 407.4 L826.5 409.7 L835.0 418.2 L843.5 412.7 L852.0 417.6 L860.5 414.8 L869.0 424.3 L877.5 422.6 L886.0 419.0 L894.5 410.8 L903.0 422.0 L911.5 429.6 L920.0 425.9 L928.5 427.5 L937.0 431.3 L945.5 416.9 L954.0 413.3 L962.5 416.7 L971.0 411.4 L979.5 406.6 L988.0 412.9 L996.5 410.3 L1005.0 408.7 L1013.5 418.6 L1022.0 413.1 L1030.5 421.1 L1039.0 424.2 L1047.5 419.7 L1056.0 415.2 L1064.5 411.6 L1073.0 410.6 L1081.5 401.7 L1090.0 402.9 L1098.5 388.9 L1107.0 387.4 L1115.5 387.3 L1124.0 377.6 L1132.5 360.2 L1141.0 361.7 L1149.5 362.9 L1158.0 364.3 L1166.5 367.9 L1175.0 371.1 L1183.5 372.4 L1192.0 375.7 L1200.5 361.5 L1209.0 378.2 L1217.5 385.1 L1226.0 390.1 L1234.5 400.2 L1243.0 386.1 L1251.5 385.5 L1260.0 375.6 L1268.5 364.0 L1277.0 370.9 L1285.5 367.5 L1294.0 366.0 L1302.5 368.8 L1311.0 369.2 L1319.5 371.7 L1328.0 388.7 L1336.5 394.1 L1345.0 410.9 L1353.5 415.4 L1362.0 419.9 L1370.5 429.7 L1379.0 432.7 L1387.5 436.1 L1396.0 436.9 L1404.5 462.6 L1413.0 457.4" stroke-width="2.40" stroke-dasharray="14.21 3.55 2.22 3.55"/>
</g>
<g stroke="#D32F2F" fill="none" stroke-linejoin="round">
<path d="M138.0 408.7 L146.5 374.8 L155.0 394.2 L163.5 407.7 L172.0 420.8 L180.5 436.9 L189.0 444.1 L197.5 443.2 L206.0 442.0 L214.5 444.4 L223.0 454.8 L231.5 464.5 L240.0 474.0 L248.5 484.5 L257.0 492.5 L265.5 492.9 L274.0 492.5 L282.5 491.5 L291.0 493.5 L299.5 496.2 L308.0 482.5 L316.5 482.9 L325.0 481.4 L333.5 479.4 L342.0 478.4 L350.5 476.8 L359.0 478.4 L367.5 472.4 L376.0 456.2 L384.5 447.1 L393.0 453.2 L401.5 447.6 L410.0 450.8 L418.5 460.2 L427.0 460.7 L435.5 461.5 L444.0 441.4 L452.5 441.4 L461.0 446.0 L469.5 448.0 L478.0 449.4 L486.5 452.0 L495.0 453.5 L503.5 454.7 L512.0 456.7 L520.5 453.1 L529.0 454.7 L537.5 442.0 L546.0 439.9 L554.5 438.9 L563.0 446.0 L571.5 441.6 L580.0 436.9 L588.5 426.8 L597.0 415.7 L605.5 403.6 L614.0 406.7 L622.5 402.6 L631.0 397.6 L639.5 398.6 L648.0 402.6 L656.5 405.7 L665.0 409.3 L673.5 414.3 L682.0 410.4 L690.5 408.6 L699.0 406.4 L707.5 404.5 L716.0 412.5 L724.5 409.5 L733.0 405.5 L741.5 406.1 L750.0 395.4 L758.5 396.8 L767.0 389.9 L775.5 391.4 L784.0 392.4 L792.5 382.3 L801.0 384.3 L809.5 379.3 L818.0 380.3 L826.5 391.4 L835.0 388.3 L843.5 385.9 L852.0 400.4 L860.5 402.5 L869.0 405.5 L877.5 397.4 L886.0 391.4 L894.5 391.4 L903.0 392.0 L911.5 392.4 L920.0 380.3 L928.5 375.8 L937.0 372.2 L945.5 360.1 L954.0 354.0 L962.5 348.9 L971.0 341.4 L979.5 330.7 L988.0 337.3 L996.5 344.0 L1005.0 330.3 L1013.5 338.3 L1022.0 334.7 L1030.5 325.2 L1039.0 330.3 L1047.5 318.6 L1056.0 317.3 L1064.5 311.2 L1073.0 310.0 L1081.5 313.1 L1090.0 321.9 L1098.5 313.3 L1107.0 318.6 L1115.5 298.9 L1124.0 295.8 L1132.5 286.8 L1141.0 266.6 L1149.5 254.1 L1158.0 241.4 L1166.5 228.3 L1175.0 232.7 L1183.5 231.3 L1192.0 231.8 L1200.5 224.8 L1209.0 219.1 L1217.5 228.2 L1226.0 225.7 L1234.5 232.3 L1243.0 228.6 L1251.5 233.5 L1260.0 243.3 L1268.5 229.0 L1277.0 209.2 L1285.5 192.3 L1294.0 197.9 L1302.5 200.8 L1311.0 203.4 L1319.5 208.0 L1328.0 239.7 L1336.5 254.4 L1345.0 251.8 L1353.5 260.9 L1362.0 270.0 L1370.5 278.8 L1379.0 281.1 L1387.5 287.0 L1396.0 308.8 L1404.5 306.4 L1413.0 291.9" stroke-width="2.45"/>
<path d="M138.0 377.0 L146.5 338.9 L155.0 361.5 L163.5 377.4 L172.0 392.7 L180.5 411.4 L189.0 419.9 L197.5 419.4 L206.0 418.4 L214.5 421.5 L223.0 433.6 L231.5 444.8 L240.0 455.7 L248.5 467.7 L257.0 477.0 L265.5 477.8 L274.0 477.6 L282.5 476.8 L291.0 479.4 L299.5 482.6 L308.0 467.9 L316.5 468.6 L325.0 467.4 L333.5 465.6 L342.0 464.8 L350.5 463.4 L359.0 465.5 L367.5 459.3 L376.0 442.3 L384.5 432.9 L393.0 439.9 L401.5 434.2 L410.0 438.1 L418.5 448.5 L427.0 449.5 L435.5 450.7 L444.0 429.7 L452.5 430.2 L461.0 435.5 L469.5 438.0 L478.0 439.9 L486.5 443.1 L495.0 445.0 L503.5 446.7 L512.0 449.2 L520.5 445.8 L529.0 447.9 L537.5 435.1 L546.0 433.4 L554.5 432.8 L563.0 440.5 L571.5 436.4 L580.0 432.1 L588.5 422.2 L597.0 411.4 L605.5 399.5 L614.0 403.1 L622.5 399.5 L631.0 394.9 L639.5 396.5 L648.0 401.1 L656.5 404.6 L665.0 408.8 L673.5 414.3 L682.0 410.4 L690.5 408.6 L699.0 406.4 L707.5 404.5 L716.0 412.5 L724.5 410.0 L733.0 406.5 L741.5 407.6 L750.0 397.4 L758.5 399.4 L767.0 393.1 L775.5 395.0 L784.0 396.5 L792.5 387.2 L801.0 389.7 L809.5 385.3 L818.0 386.8 L826.5 398.1 L835.0 395.7 L843.5 393.9 L852.0 408.5 L860.5 410.9 L869.0 414.3 L877.5 407.1 L886.0 401.8 L894.5 402.3 L903.0 403.4 L911.5 404.3 L920.0 393.4 L928.5 389.7 L937.0 386.8 L945.5 376.0 L954.0 370.9 L962.5 366.7 L971.0 360.3 L979.5 350.9 L988.0 357.7 L996.5 364.6 L1005.0 352.5 L1013.5 360.6 L1022.0 357.9 L1030.5 349.8 L1039.0 355.1 L1047.5 345.0 L1056.0 344.5 L1064.5 339.7 L1073.0 339.3 L1081.5 342.7 L1090.0 351.4 L1098.5 344.3 L1107.0 349.8 L1115.5 332.7 L1124.0 330.7 L1132.5 323.3 L1141.0 306.0 L1149.5 295.7 L1158.0 285.2 L1166.5 274.4 L1175.0 279.2 L1183.5 278.8 L1192.0 280.1 L1200.5 274.9 L1209.0 270.8 L1217.5 279.6 L1226.0 278.3 L1234.5 284.9 L1243.0 282.6 L1251.5 287.6 L1260.0 297.0 L1268.5 285.5 L1277.0 269.4 L1285.5 255.8 L1294.0 261.6 L1302.5 264.9 L1311.0 268.1 L1319.5 272.9 L1328.0 300.6 L1336.5 313.9 L1345.0 312.5 L1353.5 321.0 L1362.0 329.4 L1370.5 337.5 L1379.0 340.2 L1387.5 345.9 L1396.0 364.7 L1404.5 363.4 L1413.0 352.1" stroke-width="2.40" stroke-dasharray="8.21 3.55"/>
<path d="M716.0 412.5 L724.5 409.2 L733.0 404.9 L741.5 405.2 L750.0 394.2 L758.5 395.3 L767.0 388.1 L775.5 389.3 L784.0 390.0 L792.5 379.5 L801.0 381.2 L809.5 375.8 L818.0 376.5 L826.5 387.5 L835.0 384.1 L843.5 381.3 L852.0 395.9 L860.5 397.6 L869.0 400.4 L877.5 391.9 L886.0 385.4 L894.5 385.1 L903.0 385.4 L911.5 385.6 L920.0 372.8 L928.5 367.9 L937.0 363.8 L945.5 351.0 L954.0 344.4 L962.5 338.8 L971.0 330.6 L979.5 319.1 L988.0 325.7 L996.5 332.3 L1005.0 317.6 L1013.5 325.7 L1022.0 321.5 L1030.5 311.2 L1039.0 316.1 L1047.5 303.5 L1056.0 301.8 L1064.5 295.0 L1073.0 293.4 L1081.5 296.2 L1090.0 305.1 L1098.5 295.6 L1107.0 300.8 L1115.5 279.6 L1124.0 276.0 L1132.5 265.9 L1141.0 244.1 L1149.5 230.4 L1158.0 216.4 L1166.5 202.0 L1175.0 206.2 L1183.5 204.2 L1192.0 204.2 L1200.5 196.3 L1209.0 189.7 L1217.5 198.9 L1226.0 195.7 L1234.5 202.3 L1243.0 197.9 L1251.5 202.6 L1260.0 212.7 L1268.5 196.8 L1277.0 174.9 L1285.5 156.1 L1294.0 161.7 L1302.5 164.2 L1311.0 166.5 L1319.5 171.0 L1328.0 205.0 L1336.5 220.5 L1345.0 217.2 L1353.5 226.6 L1362.0 236.2 L1370.5 245.3 L1379.0 247.4 L1387.5 253.4 L1396.0 277.0 L1404.5 273.9 L1413.0 257.5" stroke-width="2.40" stroke-dasharray="2.22 3.66"/>
<path d="M716.0 412.5 L724.5 409.8 L733.0 406.0 L741.5 406.9 L750.0 396.6 L758.5 398.3 L767.0 391.7 L775.5 393.4 L784.0 394.7 L792.5 385.1 L801.0 387.4 L809.5 382.7 L818.0 384.0 L826.5 395.2 L835.0 392.5 L843.5 390.5 L852.0 405.0 L860.5 407.3 L869.0 410.5 L877.5 402.9 L886.0 397.3 L894.5 397.6 L903.0 398.5 L911.5 399.2 L920.0 387.7 L928.5 383.7 L937.0 380.5 L945.5 369.1 L954.0 363.6 L962.5 359.0 L971.0 352.2 L979.5 342.2 L988.0 348.9 L996.5 355.7 L1005.0 342.9 L1013.5 351.0 L1022.0 347.9 L1030.5 339.2 L1039.0 344.4 L1047.5 333.7 L1056.0 332.8 L1064.5 327.4 L1073.0 326.7 L1081.5 329.9 L1090.0 338.7 L1098.5 330.9 L1107.0 336.4 L1115.5 318.1 L1124.0 315.7 L1132.5 307.6 L1141.0 289.1 L1149.5 277.8 L1158.0 266.4 L1166.5 254.6 L1175.0 259.2 L1183.5 258.4 L1192.0 259.3 L1200.5 253.3 L1209.0 248.6 L1217.5 257.5 L1226.0 255.7 L1234.5 262.2 L1243.0 259.4 L1251.5 264.3 L1260.0 273.8 L1268.5 261.2 L1277.0 243.5 L1285.5 228.5 L1294.0 234.2 L1302.5 237.3 L1311.0 240.2 L1319.5 245.0 L1328.0 274.4 L1336.5 288.3 L1345.0 286.4 L1353.5 295.1 L1362.0 303.9 L1370.5 312.3 L1379.0 314.8 L1387.5 320.5 L1396.0 340.7 L1404.5 338.9 L1413.0 326.2" stroke-width="2.40" stroke-dasharray="14.21 3.55 2.22 3.55"/>
</g>
<path d="M478.0 399.6 L486.5 412.3 L495.0 421.8 L503.5 420.8 L512.0 456.5 L520.5 477.4 L529.0 492.9 L537.5 428.4 L546.0 468.3 L554.5 502.2 L563.0 495.0 L571.5 494.2 L580.0 495.0 L588.5 457.2 L597.0 429.0 L605.5 433.6 L614.0 488.5 L622.5 544.6 L631.0 537.9 L639.5 526.8 L648.0 521.4 L656.5 523.2 L665.0 498.6 L673.5 529.4 L682.0 559.7 L690.5 560.3 L699.0 555.6 L707.5 555.2 L716.0 561.1 L724.5 566.7 L733.0 572.8 L741.5 564.7 L750.0 594.6 L758.5 602.0" stroke="#000" stroke-width="3.3" fill="none" stroke-linejoin="round" stroke-linecap="butt"/>
</g>
<path d="M74.5 51.8 V628.5 H1477.0" stroke="#000" stroke-width="1.1" fill="none" stroke-linecap="square"/>
<g stroke="#000" stroke-width="1.1">
<path d="M223.5 628.5 v4.9"/>
<path d="M393.5 628.5 v4.9"/>
<path d="M563.5 628.5 v4.9"/>
<path d="M733.5 628.5 v4.9"/>
<path d="M903.5 628.5 v4.9"/>
<path d="M1073.5 628.5 v4.9"/>
<path d="M1243.5 628.5 v4.9"/>
<path d="M1413.5 628.5 v4.9"/>
<path d="M74.5 559.3 h-4.9"/>
<path d="M74.5 483.3 h-4.9"/>
<path d="M74.5 407.3 h-4.9"/>
<path d="M74.5 331.4 h-4.9"/>
<path d="M74.5 255.4 h-4.9"/>
<path d="M74.5 179.4 h-4.9"/>
<path d="M74.5 103.4 h-4.9"/>
</g>
<g opacity="0.999">
<text x="223.5" y="649.6" font-size="15.80" text-anchor="middle" font-weight="normal" textLength="37.6" lengthAdjust="spacingAndGlyphs">1960</text>
<text x="393.5" y="649.6" font-size="15.80" text-anchor="middle" font-weight="normal" textLength="37.6" lengthAdjust="spacingAndGlyphs">1980</text>
<text x="563.5" y="649.6" font-size="15.80" text-anchor="middle" font-weight="normal" textLength="37.6" lengthAdjust="spacingAndGlyphs">2000</text>
<text x="733.5" y="649.6" font-size="15.80" text-anchor="middle" font-weight="normal" textLength="37.6" lengthAdjust="spacingAndGlyphs">2020</text>
<text x="903.5" y="649.6" font-size="15.80" text-anchor="middle" font-weight="normal" textLength="37.6" lengthAdjust="spacingAndGlyphs">2040</text>
<text x="1073.5" y="649.6" font-size="15.80" text-anchor="middle" font-weight="normal" textLength="37.6" lengthAdjust="spacingAndGlyphs">2060</text>
<text x="1243.5" y="649.6" font-size="15.80" text-anchor="middle" font-weight="normal" textLength="37.6" lengthAdjust="spacingAndGlyphs">2080</text>
<text x="1413.5" y="649.6" font-size="15.80" text-anchor="middle" font-weight="normal" textLength="37.6" lengthAdjust="spacingAndGlyphs">2100</text>
<text x="64.3" y="566.2" font-size="15.80" text-anchor="end" font-weight="normal" textLength="33.0" lengthAdjust="spacingAndGlyphs">0.25</text>
<text x="64.3" y="490.2" font-size="15.80" text-anchor="end" font-weight="normal" textLength="33.0" lengthAdjust="spacingAndGlyphs">0.50</text>
<text x="64.3" y="414.2" font-size="15.80" text-anchor="end" font-weight="normal" textLength="33.0" lengthAdjust="spacingAndGlyphs">0.75</text>
<text x="64.3" y="338.3" font-size="15.80" text-anchor="end" font-weight="normal" textLength="33.0" lengthAdjust="spacingAndGlyphs">1.00</text>
<text x="64.3" y="262.3" font-size="15.80" text-anchor="end" font-weight="normal" textLength="33.0" lengthAdjust="spacingAndGlyphs">1.25</text>
<text x="64.3" y="186.3" font-size="15.80" text-anchor="end" font-weight="normal" textLength="33.0" lengthAdjust="spacingAndGlyphs">1.50</text>
<text x="64.3" y="110.3" font-size="15.80" text-anchor="end" font-weight="normal" textLength="33.0" lengthAdjust="spacingAndGlyphs">1.75</text>
<text x="776.0" y="672.7" font-size="16.80" text-anchor="middle" font-weight="normal" textLength="34.6" lengthAdjust="spacingAndGlyphs">Year</text>
<rect x="80.5" y="58.5" width="523" height="100" rx="2.5" ry="2.5" fill="#fff" fill-opacity="0.8" stroke="#ccc" stroke-opacity="0.8" stroke-width="1"/>
<path d="M83.7 69.4 H112.1" stroke="#000" stroke-width="3.3"/>
<rect x="85" y="84.5" width="25" height="8.7" fill="#F57C00" fill-opacity="0.42"/>
<rect x="85" y="103.2" width="25" height="8.7" fill="#D32F2F" fill-opacity="0.42"/>
<rect x="85" y="122.2" width="25" height="8.7" fill="#808080" fill-opacity="0.15"/>
<clipPath id="lp"><rect x="85" y="122.25" width="25" height="8.7"/></clipPath>
<path d="M84.2 131.8 L95.9 121.3 M100.9 131.8 L112.6 121.3" stroke="#000" stroke-width="1.4" clip-path="url(#lp)"/>
<path d="M83.9 145.9 H111.1" stroke="#808080" stroke-width="2.2"/>
<g stroke="#808080" stroke-width="2.22" fill="none">
<path d="M427 69.4 H452" stroke-dasharray="8.21 3.55"/>
<path d="M427 88.8 H452" stroke-dasharray="2.22 3.66"/>
<path d="M427 107.5 H452" stroke-dasharray="14.21 3.55 2.22 3.55"/>
</g>
<rect x="427" y="122.2" width="25" height="8.7" fill="#808080" fill-opacity="0.085"/>
<text x="420.85" y="23.70" font-size="19.00" text-anchor="middle" font-weight="bold" textLength="119.70" lengthAdjust="spacingAndGlyphs">Agricultural</text>
<text x="527.48" y="23.70" font-size="19.00" text-anchor="middle" font-weight="bold" textLength="79.96" lengthAdjust="spacingAndGlyphs">drought</text>
<text x="620.74" y="23.70" font-size="19.00" text-anchor="middle" font-weight="bold" textLength="92.84" lengthAdjust="spacingAndGlyphs">exposure</text>
<text x="682.57" y="23.70" font-size="19.00" text-anchor="middle" font-weight="bold" textLength="15.42" lengthAdjust="spacingAndGlyphs">—</text>
<text x="718.41" y="23.70" font-size="19.00" text-anchor="middle" font-weight="bold" textLength="39.54" lengthAdjust="spacingAndGlyphs">RCP</text>
<text x="802.63" y="23.70" font-size="19.00" text-anchor="middle" font-weight="bold" textLength="116.34" lengthAdjust="spacingAndGlyphs">uncertainty</text>
<text x="875.17" y="23.70" font-size="19.00" text-anchor="middle" font-weight="bold" textLength="12.02" lengthAdjust="spacingAndGlyphs">×</text>
<text x="910.75" y="23.70" font-size="19.00" text-anchor="middle" font-weight="bold" textLength="43.58" lengthAdjust="spacingAndGlyphs">land</text>
<text x="956.74" y="23.70" font-size="19.00" text-anchor="middle" font-weight="bold" textLength="34.16" lengthAdjust="spacingAndGlyphs">use</text>
<text x="1023.32" y="23.70" font-size="19.00" text-anchor="middle" font-weight="bold" textLength="85.00" lengthAdjust="spacingAndGlyphs">scenario</text>
<text x="1131.06" y="23.70" font-size="19.00" text-anchor="middle" font-weight="bold" textLength="116.16" lengthAdjust="spacingAndGlyphs">uncertainty</text>
<text x="394.60" y="45.40" font-size="19.00" text-anchor="middle" font-weight="bold" textLength="73.20" lengthAdjust="spacingAndGlyphs">Central</text>
<text x="473.17" y="45.40" font-size="19.00" text-anchor="middle" font-weight="bold" textLength="70.70" lengthAdjust="spacingAndGlyphs">Greece</text>
<text x="547.42" y="45.40" font-size="19.00" text-anchor="middle" font-weight="bold" textLength="63.52" lengthAdjust="spacingAndGlyphs">(EL64)</text>
<text x="595.58" y="45.40" font-size="19.00" text-anchor="middle" font-weight="bold">|</text>
<text x="683.51" y="45.40" font-size="19.00" text-anchor="middle" font-weight="bold" textLength="143.70" lengthAdjust="spacingAndGlyphs">CORINE-based</text>
<text x="784.00" y="45.40" font-size="19.00" text-anchor="middle" font-weight="bold" textLength="43.40" lengthAdjust="spacingAndGlyphs">land</text>
<text x="830.16" y="45.40" font-size="19.00" text-anchor="middle" font-weight="bold" textLength="34.68" lengthAdjust="spacingAndGlyphs">use</text>
<text x="902.42" y="45.40" font-size="19.00" text-anchor="middle" font-weight="bold" textLength="95.84" lengthAdjust="spacingAndGlyphs">scenarios</text>
<text x="966.42" y="45.40" font-size="19.00" text-anchor="middle" font-weight="bold">|</text>
<text x="1021.07" y="45.40" font-size="19.00" text-anchor="middle" font-weight="bold" textLength="76.82" lengthAdjust="spacingAndGlyphs">30-year</text>
<text x="1098.60" y="45.40" font-size="19.00" text-anchor="middle" font-weight="bold" textLength="64.56" lengthAdjust="spacingAndGlyphs">rolling</text>
<text x="1165.08" y="45.40" font-size="19.00" text-anchor="middle" font-weight="bold" textLength="54.88" lengthAdjust="spacingAndGlyphs">mean</text>
<text transform="translate(21.00 491.64) rotate(-90)" font-size="16.30" text-anchor="middle" font-weight="normal" textLength="87.64" lengthAdjust="spacingAndGlyphs">Agricultural</text>
<text transform="translate(21.00 412.35) rotate(-90)" font-size="16.30" text-anchor="middle" font-weight="normal" textLength="59.30" lengthAdjust="spacingAndGlyphs">drought</text>
<text transform="translate(21.00 342.17) rotate(-90)" font-size="16.30" text-anchor="middle" font-weight="normal" textLength="70.02" lengthAdjust="spacingAndGlyphs">exposure</text>
<text transform="translate(21.00 225.34) rotate(-90)" font-size="16.30" text-anchor="middle" font-weight="normal" textLength="153.04" lengthAdjust="spacingAndGlyphs">(months/yr·fraction)</text>
<text x="149.57" y="73.80" font-size="13.30" text-anchor="middle" font-weight="normal" textLength="58.54" lengthAdjust="spacingAndGlyphs">Historical</text>
<text x="141.74" y="94.00" font-size="13.30" text-anchor="middle" font-weight="normal" textLength="43.16" lengthAdjust="spacingAndGlyphs">RCP4.5</text>
<text x="184.34" y="94.00" font-size="13.30" text-anchor="middle" font-weight="normal" textLength="31.00" lengthAdjust="spacingAndGlyphs">(land</text>
<text x="231.00" y="94.00" font-size="13.30" text-anchor="middle" font-weight="normal" textLength="53.00" lengthAdjust="spacingAndGlyphs">scenario</text>
<text x="282.50" y="94.00" font-size="13.30" text-anchor="middle" font-weight="normal" textLength="40.68" lengthAdjust="spacingAndGlyphs">range)</text>
<text x="141.74" y="112.90" font-size="13.30" text-anchor="middle" font-weight="normal" textLength="43.16" lengthAdjust="spacingAndGlyphs">RCP8.5</text>
<text x="184.34" y="112.90" font-size="13.30" text-anchor="middle" font-weight="normal" textLength="31.00" lengthAdjust="spacingAndGlyphs">(land</text>
<text x="231.00" y="112.90" font-size="13.30" text-anchor="middle" font-weight="normal" textLength="53.00" lengthAdjust="spacingAndGlyphs">scenario</text>
<text x="282.50" y="112.90" font-size="13.30" text-anchor="middle" font-weight="normal" textLength="40.68" lengthAdjust="spacingAndGlyphs">range)</text>
<text x="144.09" y="131.70" font-size="13.30" text-anchor="middle" font-weight="normal" textLength="48.18" lengthAdjust="spacingAndGlyphs">Climate</text>
<text x="191.76" y="131.70" font-size="13.30" text-anchor="middle" font-weight="normal" textLength="37.84" lengthAdjust="spacingAndGlyphs">model</text>
<text x="236.34" y="131.70" font-size="13.30" text-anchor="middle" font-weight="normal" textLength="42.00" lengthAdjust="spacingAndGlyphs">spread</text>
<text x="288.76" y="131.70" font-size="13.30" text-anchor="middle" font-weight="normal" textLength="52.52" lengthAdjust="spacingAndGlyphs">P17–P83</text>
<text x="360.51" y="131.70" font-size="13.30" text-anchor="middle" font-weight="normal" textLength="81.34" lengthAdjust="spacingAndGlyphs">(persistence)</text>
<text x="155.90" y="150.80" font-size="13.30" text-anchor="middle" font-weight="normal" textLength="71.20" lengthAdjust="spacingAndGlyphs">Persistence</text>
<text x="479.18" y="73.80" font-size="13.30" text-anchor="middle" font-weight="normal" textLength="33.64" lengthAdjust="spacingAndGlyphs">Trend</text>
<text x="545.59" y="73.80" font-size="13.30" text-anchor="middle" font-weight="normal" textLength="88.50" lengthAdjust="spacingAndGlyphs">(extrapolated)</text>
<text x="481.41" y="94.00" font-size="13.30" text-anchor="middle" font-weight="normal" textLength="37.50" lengthAdjust="spacingAndGlyphs">+10%</text>
<text x="512.06" y="94.00" font-size="13.30" text-anchor="middle" font-weight="normal" textLength="14.48" lengthAdjust="spacingAndGlyphs">by</text>
<text x="539.74" y="94.00" font-size="13.30" text-anchor="middle" font-weight="normal" textLength="31.16" lengthAdjust="spacingAndGlyphs">2100</text>
<text x="481.41" y="112.90" font-size="13.30" text-anchor="middle" font-weight="normal" textLength="37.50" lengthAdjust="spacingAndGlyphs">−10%</text>
<text x="512.06" y="112.90" font-size="13.30" text-anchor="middle" font-weight="normal" textLength="14.48" lengthAdjust="spacingAndGlyphs">by</text>
<text x="539.74" y="112.90" font-size="13.30" text-anchor="middle" font-weight="normal" textLength="31.16" lengthAdjust="spacingAndGlyphs">2100</text>
<text x="488.24" y="131.70" font-size="13.30" text-anchor="middle" font-weight="normal" textLength="53.20" lengthAdjust="spacingAndGlyphs">Baseline</text>
<text x="558.74" y="131.70" font-size="13.30" text-anchor="middle" font-weight="normal" textLength="79.52" lengthAdjust="spacingAndGlyphs">(1991–2020)</text>
</g>
</svg></body></html>
